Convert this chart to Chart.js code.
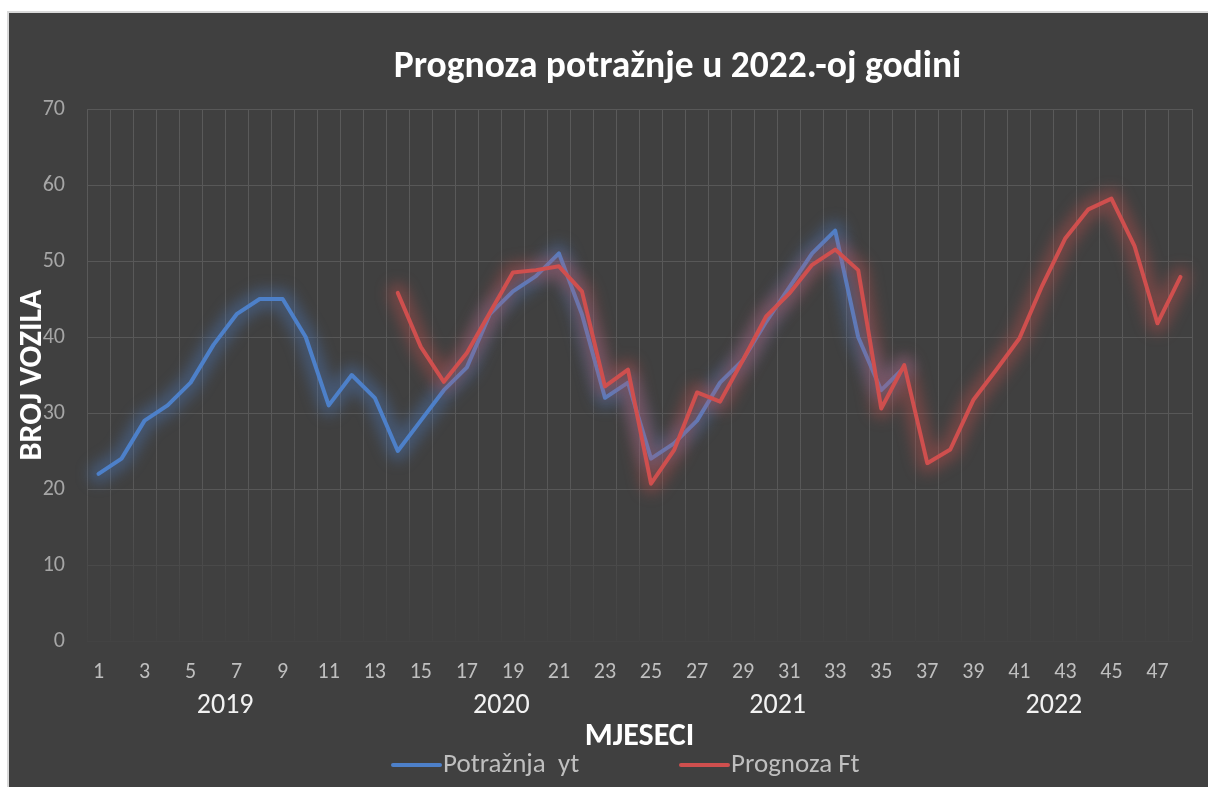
<!DOCTYPE html>
<html>
<head>
<meta charset="utf-8">
<script src="https://cdn.jsdelivr.net/npm/chart.js@4.4.1/dist/chart.umd.min.js"></script>
<style>
  html, body { margin: 0; padding: 0; background: #fff; }
  #box {
    position: absolute; left: 7px; top: 11px;
    border-left: 2px solid #d9d9d9; border-top: 2px solid #d9d9d9;
    background: #404040; width: 1199px; height: 774px;
  }
</style>
</head>
<body>
<div id="box"><canvas id="demandChart" width="1199" height="774"></canvas></div>
<script>
const FONT = 'Carlito, Calibri, "Open Sans", sans-serif'

// months 1..48 on the x axis, grouped into years
const months = ['1','2','3','4','5','6','7','8','9','10','11','12',
  '13','14','15','16','17','18','19','20','21','22','23','24',
  '25','26','27','28','29','30','31','32','33','34','35','36',
  '37','38','39','40','41','42','43','44','45','46','47','48']
const years = ['2019', '2020', '2021', '2022']

// Potražnja yt (months 1-36)
const demand = [22, 24, 29, 31, 34, 39, 43, 45, 45, 40, 31, 35,
  32, 25, 29, 33, 36, 43, 46, 48, 51, 43, 32, 34,
  24, 26, 29, 34, 37, 42, 46.5, 51, 54, 40, 33, 36]

// Prognoza Ft (months 14-48)
const forecast = [null, null, null, null, null, null, null, null, null, null, null, null,
  null, 45.8, 38.7, 34.1, 37.9, 43.2, 48.5, 48.8, 49.3, 46, 33.5, 35.7,
  20.7, 25.1, 32.7, 31.5, 37, 42.7, 45.7, 49.5, 51.5, 48.8, 30.6, 36.3,
  23.4, 25.2, 31.7, 35.7, 39.8, 46.8, 53, 56.8, 58.2, 52, 41.8, 47.9]

const yTicks = { min: 0, max: 70, step: 10 }

// soft glow: draw the same line element thick and blurred underneath
const glow = {
  id: 'glow',
  beforeDatasetDraw(chart, args) {
    const ds = chart.data.datasets[args.index]
    const el = args.meta.dataset
    const orig = el.options
    const ctx = chart.ctx
    ctx.save()
    ctx.filter = 'blur(7px)'
    el.options = Object.assign({}, orig, { borderWidth: 20, borderColor: ds.glowColor })
    el.draw(ctx, chart.chartArea)
    el.options = orig
    ctx.restore()
  }
}

// title, drawn a bit right of the plot centre like the original
const titlePlugin = {
  id: 'bigTitle',
  afterDraw(chart) {
    const ctx = chart.ctx
    const a = chart.chartArea
    ctx.save()
    ctx.font = 'bold 37.5px ' + FONT
    ctx.fillStyle = '#ffffff'
    ctx.textAlign = 'center'
    ctx.textBaseline = 'alphabetic'
    ctx.fillText('Prognoza potražnje u 2022.-oj godini', (a.left + a.right) / 2 + 38, 64)
    ctx.restore()
  }
}

// legend at the bottom with a wide gap between items
const legendPlugin = {
  id: 'bottomLegend',
  afterDraw(chart) {
    const ctx = chart.ctx
    const y = 752
    const starts = [384, 672]
    ctx.save()
    ctx.font = '27px ' + FONT
    ctx.textBaseline = 'middle'
    chart.data.datasets.forEach((ds, i) => {
      const x = starts[i]
      ctx.strokeStyle = ds.borderColor
      ctx.lineWidth = 4
      ctx.lineCap = 'round'
      ctx.beginPath()
      ctx.moveTo(x, y)
      ctx.lineTo(x + 47, y)
      ctx.stroke()
      ctx.fillStyle = '#bfbfbf'
      ctx.fillText(ds.label, x + 50, y)
    })
    ctx.restore()
  }
}

const fadeGrid = ctx => {
  const a = ctx.chart.chartArea
  if (!a) return '#595959'
  const g = ctx.chart.ctx.createLinearGradient(0, a.top, 0, a.bottom)
  g.addColorStop(0, '#5a5a5a')
  g.addColorStop(0.7, '#585858')
  g.addColorStop(0.88, '#484848')
  g.addColorStop(1, '#424242')
  return g
}

const ctx = document.getElementById('demandChart').getContext('2d')
const demandChart = new Chart(ctx, {
  type: 'line',
  data: {
    labels: months,
    datasets: [{
      label: 'Potražnja  yt',
      data: demand,
      borderColor: '#4d80c9',
      glowColor: 'rgba(77, 128, 201, 0.36)',
      borderWidth: 4,
      pointRadius: 0,
      borderCapStyle: 'round',
      borderJoinStyle: 'round',
      order: 2
    }, {
      label: 'Prognoza Ft',
      data: forecast,
      borderColor: '#cf4f4e',
      glowColor: 'rgba(207, 79, 78, 0.36)',
      borderWidth: 4,
      pointRadius: 0,
      borderCapStyle: 'round',
      borderJoinStyle: 'round',
      order: 1
    }]
  },
  options: {
    responsive: false,
    animation: false,
    layout: { padding: { left: 0, right: 16, top: 96, bottom: 31 } },
    plugins: {
      legend: { display: false },
      tooltip: { enabled: false }
    },
    scales: {
      x: {
        offset: true,
        grid: { offset: true, color: fadeGrid, drawTicks: false },
        border: { display: false },
        ticks: {
          autoSkip: false, maxRotation: 0, padding: 18,
          color: '#bfbfbf', font: { family: FONT, size: 22 },
          callback: (v, i) => i % 2 === 0 ? months[i] : ''
        },
        afterFit: s => { s.height = 44 }
      },
      year: {
        type: 'category',
        position: 'bottom',
        labels: years,
        offset: true,
        grid: { display: false, drawTicks: false },
        border: { display: false },
        ticks: { padding: 4, color: '#f2f2f2', font: { family: FONT, size: 28 } },
        title: {
          display: true, text: 'MJESECI', color: '#ffffff',
          font: { family: FONT, size: 32, weight: 'bold' },
          padding: { top: 0, bottom: 0 }
        },
        afterFit: s => { s.height = 71 }
      },
      y: {
        min: yTicks.min,
        max: yTicks.max,
        grid: {
          drawTicks: false,
          color: c => c.tick.value >= 20 ? '#585858' : (c.tick.value >= 10 ? '#4a4a4a' : '#434343')
        },
        border: { display: false },
        ticks: {
          stepSize: yTicks.step, padding: 22,
          color: '#a6a6a6', font: { family: FONT, size: 22 }
        },
        title: {
          display: true, text: 'BROJ VOZILA', color: '#ffffff',
          font: { family: FONT, size: 32, weight: 'bold' },
          padding: { top: 5, bottom: 0 }
        },
        afterFit: s => { s.width = 78 }
      }
    }
  },
  plugins: [glow, titlePlugin, legendPlugin]
})
</script>
</body>
</html>
